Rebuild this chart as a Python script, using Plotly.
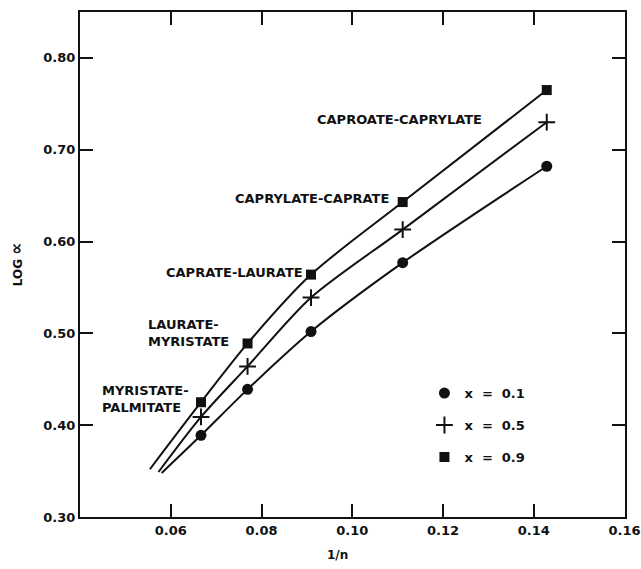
import plotly.graph_objects as go

# Carbon number n of the lighter acid in each adjacent pair; abscissa is 1/n
chain_n = [15, 13, 11, 9, 7]
inv_n = [1.0 / n for n in chain_n]

# log alpha for mole fraction x of the lighter component
log_alpha_x01 = [0.389, 0.439, 0.502, 0.577, 0.682]
log_alpha_x05 = [0.409, 0.464, 0.539, 0.613, 0.730]
log_alpha_x09 = [0.425, 0.489, 0.564, 0.643, 0.765]

# lower (extrapolated) ends of the smoothed curves
curve_end_x = [0.0580, 0.0573, 0.0554]
curve_end_y = [0.348, 0.349, 0.352]

series_names = ["x\u00a0 =\u00a0 0.1", "x\u00a0 =\u00a0 0.5", "x\u00a0 =\u00a0 0.9"]
series_values = [log_alpha_x01, log_alpha_x05, log_alpha_x09]
series_symbols = ["circle", "cross-thin", "square"]
series_sizes = [11, 12, 10]

pair_labels = [
    "CAPROATE-CAPRYLATE",
    "CAPRYLATE-CAPRATE",
    "CAPRATE-LAURATE",
    "LAURATE-<br>MYRISTATE",
    "MYRISTATE-<br>PALMITATE",
]
label_x = [0.129, 0.1085, 0.0895, 0.0545, 0.0445]
label_y = [0.733, 0.647, 0.566, 0.500, 0.429]
label_anchor = ["right", "right", "right", "left", "left"]

x_ticks = [0.06, 0.08, 0.10, 0.12, 0.14, 0.16]
y_ticks = [0.30, 0.40, 0.50, 0.60, 0.70, 0.80]

FONT = "DejaVu Sans"
INK = "#111111"

fig = go.Figure()

for i, vals in enumerate(series_values):
    fig.add_trace(go.Scatter(
        x=[curve_end_x[i]] + inv_n,
        y=[curve_end_y[i]] + vals,
        mode="lines",
        line=dict(color=INK, width=2, shape="spline", smoothing=0.8),
        showlegend=False,
        hoverinfo="skip",
    ))

for i, vals in enumerate(series_values):
    fig.add_trace(go.Scatter(
        x=inv_n,
        y=vals,
        mode="markers",
        name=series_names[i],
        legendgroup=series_names[i],
        marker=dict(symbol=series_symbols[i], size=series_sizes[i], color=INK,
                    line=dict(color=INK, width=2 if series_symbols[i] == "cross-thin" else 0)),
    ))

for txt, lx, ly, anc in zip(pair_labels, label_x, label_y, label_anchor):
    fig.add_annotation(
        x=lx, y=ly, xref="x", yref="y", text=txt, showarrow=False,
        xanchor=anc, yanchor="middle", align="left",
        font=dict(family=FONT, size=13, color=INK, weight="bold"),
    )

fig.add_annotation(
    x=-0.14, y=0.5, xref="paper", yref="paper",
    text="LOG <span style='font-size:17px'>∝</span>", textangle=-90,
    showarrow=False, font=dict(family=FONT, size=12, color=INK, weight="bold"),
)
fig.add_annotation(
    x=0.472, y=-0.076, xref="paper", yref="paper", text="1/n", yanchor="middle",
    showarrow=False, font=dict(family=FONT, size=12, color=INK, weight="bold"),
)

axis_common = dict(
    showline=True, linewidth=2, linecolor=INK, mirror="ticks",
    ticks="inside", ticklen=13, tickwidth=2, tickcolor=INK,
    showgrid=False, zeroline=False, automargin=False,
    tickfont=dict(family=FONT, size=13, color=INK, weight="bold"),
    tickformat=".2f", ticklabeloverflow="allow",
)

fig.update_xaxes(range=[0.04, 0.1601], tickvals=x_ticks, **axis_common)
fig.update_yaxes(range=[0.30, 0.85], tickvals=y_ticks, **axis_common)

fig.update_layout(
    width=641, height=569,
    margin=dict(l=80, r=16, t=12, b=52),
    paper_bgcolor="white", plot_bgcolor="white",
    showlegend=True,
    legend=dict(
        x=0.632, y=0.275, xanchor="left", yanchor="top",
        font=dict(family=FONT, size=13, color=INK, weight="bold"),
        tracegroupgap=12, itemsizing="trace",
        bgcolor="rgba(0,0,0,0)",
    ),
)

fig.write_html("out.html")
